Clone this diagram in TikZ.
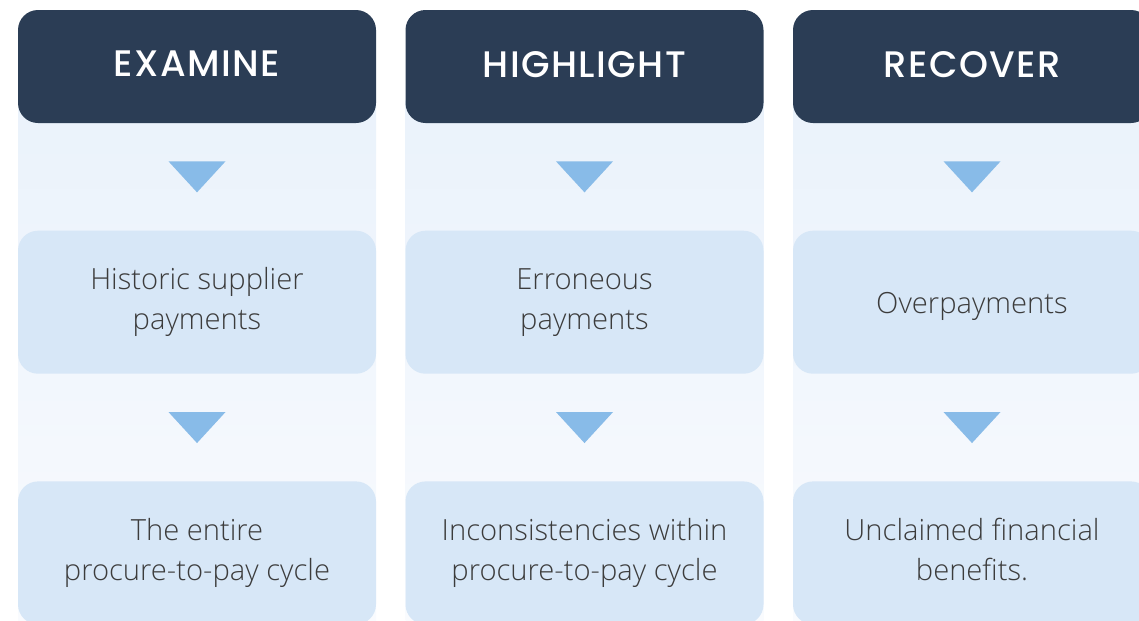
\documentclass[tikz,border=0pt]{standalone}
\usepackage{fontspec}
\setmainfont{Open Sans}[UprightFont=* Light]
\newfontfamily\headfont{Poppins}[UprightFont=* Medium, LetterSpace=4]
\usetikzlibrary{positioning,calc}
\definecolor{stepNavy}{HTML}{2B3D55}
\definecolor{stepArrow}{HTML}{88BBE8}
\definecolor{stepFill}{HTML}{D7E7F7}
\definecolor{stepText}{HTML}{3C3C3C}
\definecolor{colTop}{HTML}{EAF2FB}
\definecolor{colBottom}{HTML}{F9FBFE}
\tikzset{
    shead/.style={fill=stepNavy, rounded corners=0.4cm, minimum width=7.16cm, minimum height=2.26cm, inner sep=0pt, text depth=2.8pt, text=white, font=\headfont\fontsize{21}{24}\selectfont},
    sbox/.style={fill=stepFill, rounded corners=0.4cm, minimum width=7.16cm, minimum height=2.86cm, inner sep=0pt, text depth=4pt, align=center, text=stepText, font=\fontsize{16.6}{22.7}\selectfont},
    scol/.style={top color=colTop, bottom color=colBottom},
    sarrow/.style={fill=stepArrow}
}

\begin{document}
\begin{tikzpicture}
    \useasboundingbox (0,0) rectangle (22.78,-12.4);
    \clip (0,0) rectangle (22.78,-12.4);
    \foreach \i/\x/\head/\mid/\low in {1/3.94/EXAMINE/{Historic supplier\\payments}/{The entire\\procure-to-pay cycle},
        2/11.69/HIGHLIGHT/{Erroneous\\payments}/{Inconsistencies within\\procure-to-pay cycle},
        3/19.44/RECOVER/{\rule{0pt}{16.6pt}Overpayments}/{Unclaimed financial\\benefits.}}{
        \shade[scol] ({\x-3.58},-2.0) rectangle ({\x+3.58},-12.6);
        \node[shead] (hd\i) at (\x,-1.33) {\head};
        \node[sbox, below=2.14cm of hd\i] (md\i) {\mid};
        \node[sbox, below=2.14cm of md\i] (lo\i) {\low};
        \coordinate (ta\i) at ($(hd\i.south)!0.5!(md\i.north)$);
        \coordinate (tb\i) at ($(md\i.south)!0.5!(lo\i.north)$);
        \fill[sarrow] ([shift={(-0.57,0.31)}]ta\i) -- ([shift={(0.57,0.31)}]ta\i) -- ([yshift=-0.31cm]ta\i) -- cycle;
        \fill[sarrow] ([shift={(-0.57,0.31)}]tb\i) -- ([shift={(0.57,0.31)}]tb\i) -- ([yshift=-0.31cm]tb\i) -- cycle;
    }
\end{tikzpicture}
\end{document}
